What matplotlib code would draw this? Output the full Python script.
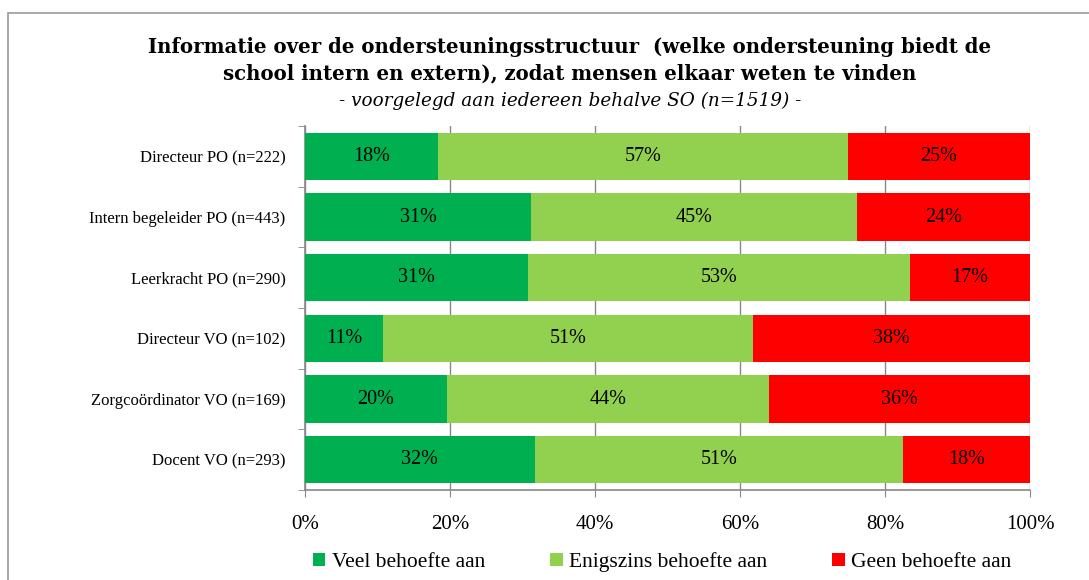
import matplotlib
matplotlib.use("Agg")
import matplotlib.pyplot as plt
from matplotlib.patches import Rectangle

categories = [
    "Directeur PO (n=222)",
    "Intern begeleider PO (n=443)",
    "Leerkracht PO (n=290)",
    "Directeur VO (n=102)",
    "Zorgcoördinator VO (n=169)",
    "Docent VO (n=293)",
]
veel = [18.3, 31.2, 30.8, 10.8, 19.6, 31.7]
enigszins = [56.6, 44.9, 52.6, 51.0, 44.4, 50.8]
geen = [25.1, 23.9, 16.7, 38.2, 36.0, 17.6]
series_names = ["Veel behoefte aan", "Enigszins behoefte aan", "Geen behoefte aan"]
colors = ["#00B050", "#92D050", "#FF0000"]
xticks = [0, 20, 40, 60, 80, 100]

plt.rcParams['font.family'] = ['Liberation Serif', 'DejaVu Serif']

fig = plt.figure(figsize=(10.89, 5.8), dpi=100)
ax = fig.add_axes([305/1089, 1-490/580, 725/1089, 364/580])

n = len(categories)
ypos = list(range(n))
left = [0]*n
for vals, col, name in zip([veel, enigszins, geen], colors, series_names):
    ax.barh(ypos, vals, left=left, color=col, height=0.78, label=name, zorder=3)
    for y, l, v in zip(ypos, left, vals):
        ax.text(l + v/2, y, f"{v:.0f}%", ha='center', va='center', fontsize=14.5, color='black', zorder=4)
    left = [a+b for a, b in zip(left, vals)]

ax.set_xlim(0, 100)
ax.set_ylim(n-0.5, -0.5)
ax.set_yticks(ypos)
ax.set_yticklabels(categories, fontsize=12)
ax.set_yticks([i-0.5 for i in range(n+1)], minor=True)
ax.tick_params(axis='y', which='major', length=0, pad=14)
ax.tick_params(axis='y', which='minor', length=5, color='#888888', direction='out')
ax.set_xticks(xticks)
ax.set_xticklabels([f"{t}%" for t in xticks], fontsize=15)
ax.tick_params(axis='x', length=5, color='#888888', direction='out', pad=13)
ax.grid(axis='x', color='#888888', linewidth=1, zorder=0)
for s in ['top', 'right']:
    ax.spines[s].set_visible(False)
for s in ['left', 'bottom']:
    ax.spines[s].set_color('#888888')
    ax.spines[s].set_linewidth(1.2)

fig.text(570/1089, 1-47/580, "Informatie over de ondersteuningsstructuur  (welke ondersteuning biedt de",
         ha='center', va='center', fontsize=14.2, fontweight='bold', family='DejaVu Serif')
fig.text(570/1089, 1-73/580, "school intern en extern), zodat mensen elkaar weten te vinden",
         ha='center', va='center', fontsize=14.2, fontweight='bold', family='DejaVu Serif')
fig.text(570/1089, 1-101/580, "- voorgelegd aan iedereen behalve SO (n=1519) -",
         ha='center', va='center', fontsize=13.2, fontstyle='italic', family='DejaVu Serif')

handles, labels = ax.get_legend_handles_labels()
fig.legend(handles, labels, loc='center', bbox_to_anchor=(662/1089, 1-562/580), ncol=3,
           frameon=False, fontsize=15.5, handlelength=0.6, handleheight=0.6,
           handletextpad=0.3, columnspacing=3.0)

fig.patches.append(Rectangle((8/1089, -0.1), 1.2, 1-13/580+0.1, transform=fig.transFigure,
                             fill=False, edgecolor='#999999', linewidth=1.2))

fig.savefig("out.png", dpi=100)
